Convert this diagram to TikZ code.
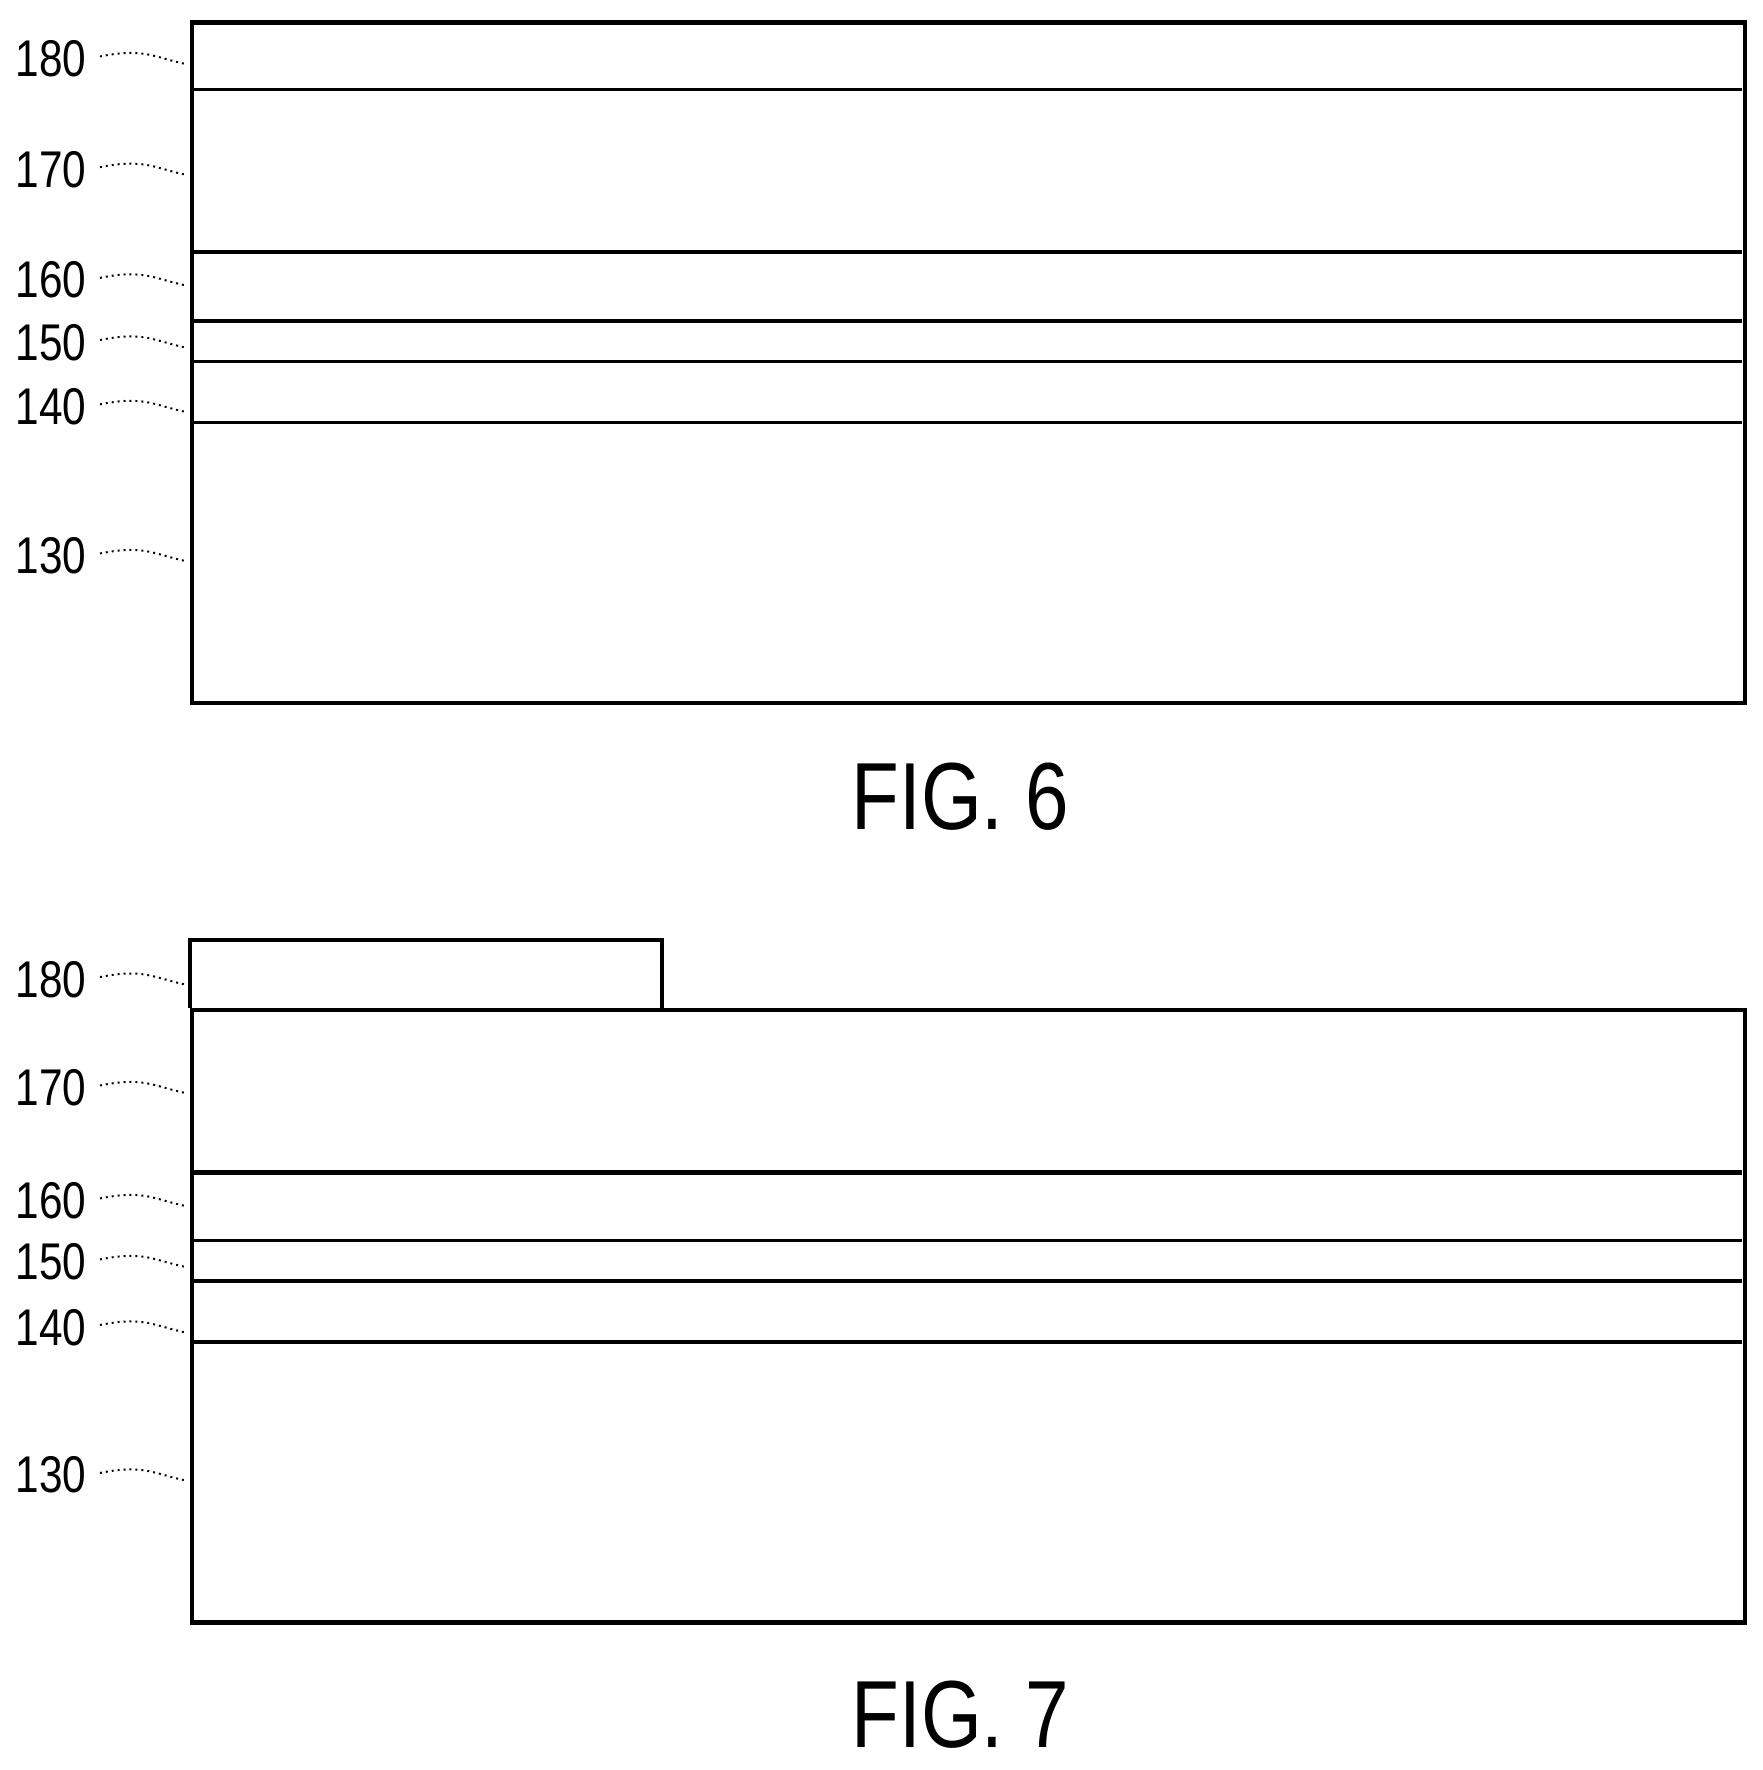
\documentclass[tikz,border=0pt]{standalone}
\usepackage{fontspec}
\setmainfont{Liberation Sans}
\newfontfamily\narrowsans[FakeStretch=0.82]{Liberation Sans}
\usetikzlibrary{positioning}

\begin{document}
\begin{tikzpicture}[
            x=0.01cm, y=-0.01cm,
            layer/.style={draw, line width=1.1pt},
            thin_layer/.style={draw, line width=0.7pt},
            ref/.style={font=\narrowsans\fontsize{13}{13}\selectfont, inner sep=1pt},
            leader/.style={draw, densely dotted, line width=0.5pt},
            caption/.style={font=\narrowsans\fontsize{24}{24}\selectfont}
        ]
        \useasboundingbox (0,0) rectangle (1560,1567);

        % FIG. 6
        \node[draw, line width=1.1pt, minimum width=13.74cm, minimum height=6.02cm, anchor=north west, inner sep=0pt] (stackA) at (168,18) {};
        \draw[thin_layer] (168,79) -- (1542,79);
        \draw[layer] (168,223) -- (1542,223);
        \draw[layer] (168,284) -- (1542,284);
        \draw[thin_layer] (168,320) -- (1542,320);
        \draw[thin_layer] (168,374) -- (1542,374);

        \node[ref] (a180) at (45,52) {180};
        \node[ref] (a170) at (45,150) {170};
        \node[ref] (a160) at (45,248) {160};
        \node[ref] (a150) at (45,303) {150};
        \node[ref] (a140) at (45,360) {140};
        \node[ref] (a130) at (45,492) {130};
        \foreach \n/\y in {180/52, 170/150, 160/248, 150/303, 140/360, 130/492} {
            \coordinate (pa\n) at (166,\y+5);
            \draw[leader] (a\n.east) ++(8,-2) .. controls +(40,-8) and +(-30,-6) .. (pa\n);
        }

        \node[caption] (fig6) at (850,705) {FIG. 6};

        % FIG. 7
        \node[draw, line width=1.1pt, minimum width=13.74cm, minimum height=5.42cm, anchor=north west, inner sep=0pt] (stackB) at (168,892) {};
        \coordinate (maskL) at (168,892);
        \coordinate (maskR) at (586,892);
        \draw[layer] (maskL) -- ++(0,-60) -| (maskR);
        \draw[layer] (168,1038) -- (1542,1038);
        \draw[thin_layer] (168,1098) -- (1542,1098);
        \draw[layer] (168,1134) -- (1542,1134);
        \draw[layer] (168,1188) -- (1542,1188);

        \node[ref] (b180) at (45,867) {180};
        \node[ref] (b170) at (45,963) {170};
        \node[ref] (b160) at (45,1063) {160};
        \node[ref] (b150) at (45,1117) {150};
        \node[ref] (b140) at (45,1175) {140};
        \node[ref] (b130) at (45,1306) {130};
        \foreach \n/\y in {180/867, 170/963, 160/1063, 150/1117, 140/1175, 130/1306} {
            \coordinate (pb\n) at (166,\y+5);
            \draw[leader] (b\n.east) ++(8,-2) .. controls +(40,-8) and +(-30,-6) .. (pb\n);
        }

        \node[caption] (fig7) at (850,1518) {FIG. 7};
    \end{tikzpicture}
\end{document}
